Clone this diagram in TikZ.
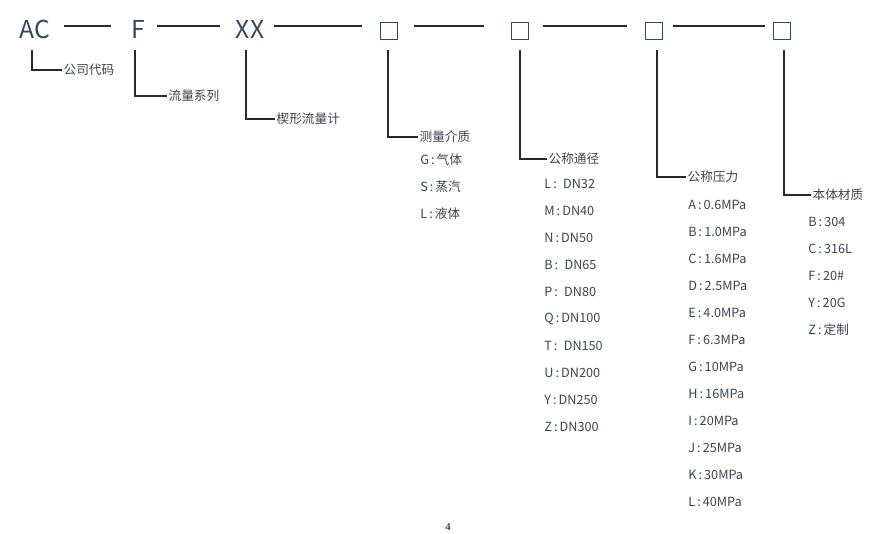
\documentclass[tikz,border=0pt]{standalone}
\usepackage{fontspec}
\setmainfont{Noto Sans CJK SC}
\newfontfamily\pgfont{Liberation Serif}
\begin{document}
\begin{tikzpicture}[x=0.75pt,y=-0.75pt,
  top/.style={font=\fontsize{18.5}{20}\selectfont,text=topc,inner sep=0pt},
  bx/.style={draw=topc,line width=1pt,minimum width=13pt,minimum height=13pt,inner sep=0pt},
  lab/.style={font=\fontsize{9.5}{11}\selectfont,text=txtc,anchor=west,inner sep=1pt},
  itm/.style={font=\fontsize{9.5}{11}\selectfont,text=txtc,anchor=west,inner sep=0pt},
  ln/.style={draw=linec,line width=0.9pt},
  lead/.style={draw=linec,line width=0.9pt}]
\definecolor{topc}{HTML}{34495E}
\definecolor{txtc}{HTML}{3C4650}
\definecolor{linec}{HTML}{2A2A2A}
\useasboundingbox[fill=white] (0,0) rectangle (886,533);
\node[top] (ac) at (35,29) {AC};
\node[top] (f) at (138,29) {F};
\node[top] (xx) at (250,29) {XX};
\node[bx] (b1) at (389,31) {};
\node[bx] (b2) at (520,31) {};
\node[bx] (b3) at (654,31) {};
\node[bx] (b4) at (782,31) {};
\draw[ln,shorten <=10pt,shorten >=15pt] (ac.east |- 0,26) -- (f.west |- 0,26);
\draw[ln,shorten <=9pt,shorten >=12pt] (f.east |- 0,26) -- (xx.west |- 0,26);
\draw[ln,shorten <=7pt,shorten >=13pt] (xx.east |- 0,26) -- (b1.west |- 0,26);
\draw[ln,shorten <=12pt,shorten >=20pt] (b1.east |- 0,26) -- (b2.west |- 0,26);
\draw[ln,shorten <=10pt,shorten >=13pt] (b2.east |- 0,26) -- (b3.west |- 0,26);
\draw[ln,shorten <=7pt,shorten >=6pt] (b3.east |- 0,26) -- (b4.west |- 0,26);
\node[lab] (l1) at (62,70) {公司代码};
\node[lab] (l2) at (167,96) {流量系列};
\node[lab] (l3) at (275,119) {楔形流量计};
\node[lab] (l4) at (418,137) {测量介质};
\node[lab] (l5) at (547,159) {公称通径};
\node[lab] (l6) at (686,177) {公称压力};
\node[lab] (l7) at (811,195) {本体材质};
\coordinate (c1) at (32,50); \coordinate (c2) at (135,50); \coordinate (c3) at (246,50);
\coordinate (c4) at (388,50); \coordinate (c5) at (520,50); \coordinate (c6) at (657,50);
\coordinate (c7) at (784,50);
\draw[lead] (c1) |- (l1.west);
\draw[lead] (c2) |- (l2.west);
\draw[lead] (c3) |- (l3.west);
\draw[lead] (c4) |- (l4.west);
\draw[lead] (c5) |- (l5.west);
\draw[lead] (c6) |- (l6.west);
\draw[lead] (c7) |- (l7.west);
\foreach \t [count=\i] in {G\,:\,气体,S\,:\,蒸汽,L\,:\,液体}
  \node[itm] (m\i) at (420,133+27*\i) {\t};
\foreach \t [count=\i] in {L\,:\enspace DN32,M\,:\,DN40,N\,:\,DN50,B\,:\enspace DN65,P\,:\enspace DN80,Q\,:\,DN100,T\,:\enspace DN150,U\,:\,DN200,Y\,:\,DN250,Z\,:\,DN300}
  \node[itm] (d\i) at (544,157+27*\i) {\t};
\foreach \t [count=\i] in {A\,:\,0.6MPa,B\,:\,1.0MPa,C\,:\,1.6MPa,D\,:\,2.5MPa,E\,:\,4.0MPa,F\,:\,6.3MPa,G\,:\,10MPa,H\,:\,16MPa,I\,:\,20MPa,J\,:\,25MPa,K\,:\,30MPa,L\,:\,40MPa}
  \node[itm] (p\i) at (688,178+27*\i) {\t};
\foreach \t [count=\i] in {B\,:\,304,C\,:\,316L,F\,:\,20\#,Y\,:\,20G,Z\,:\,定制}
  \node[itm] (s\i) at (808,195+27*\i) {\t};
\node[font=\fontsize{8}{9}\selectfont\pgfont,inner sep=0pt] (pg) at (448,527) {4};
\end{tikzpicture}
\end{document}
